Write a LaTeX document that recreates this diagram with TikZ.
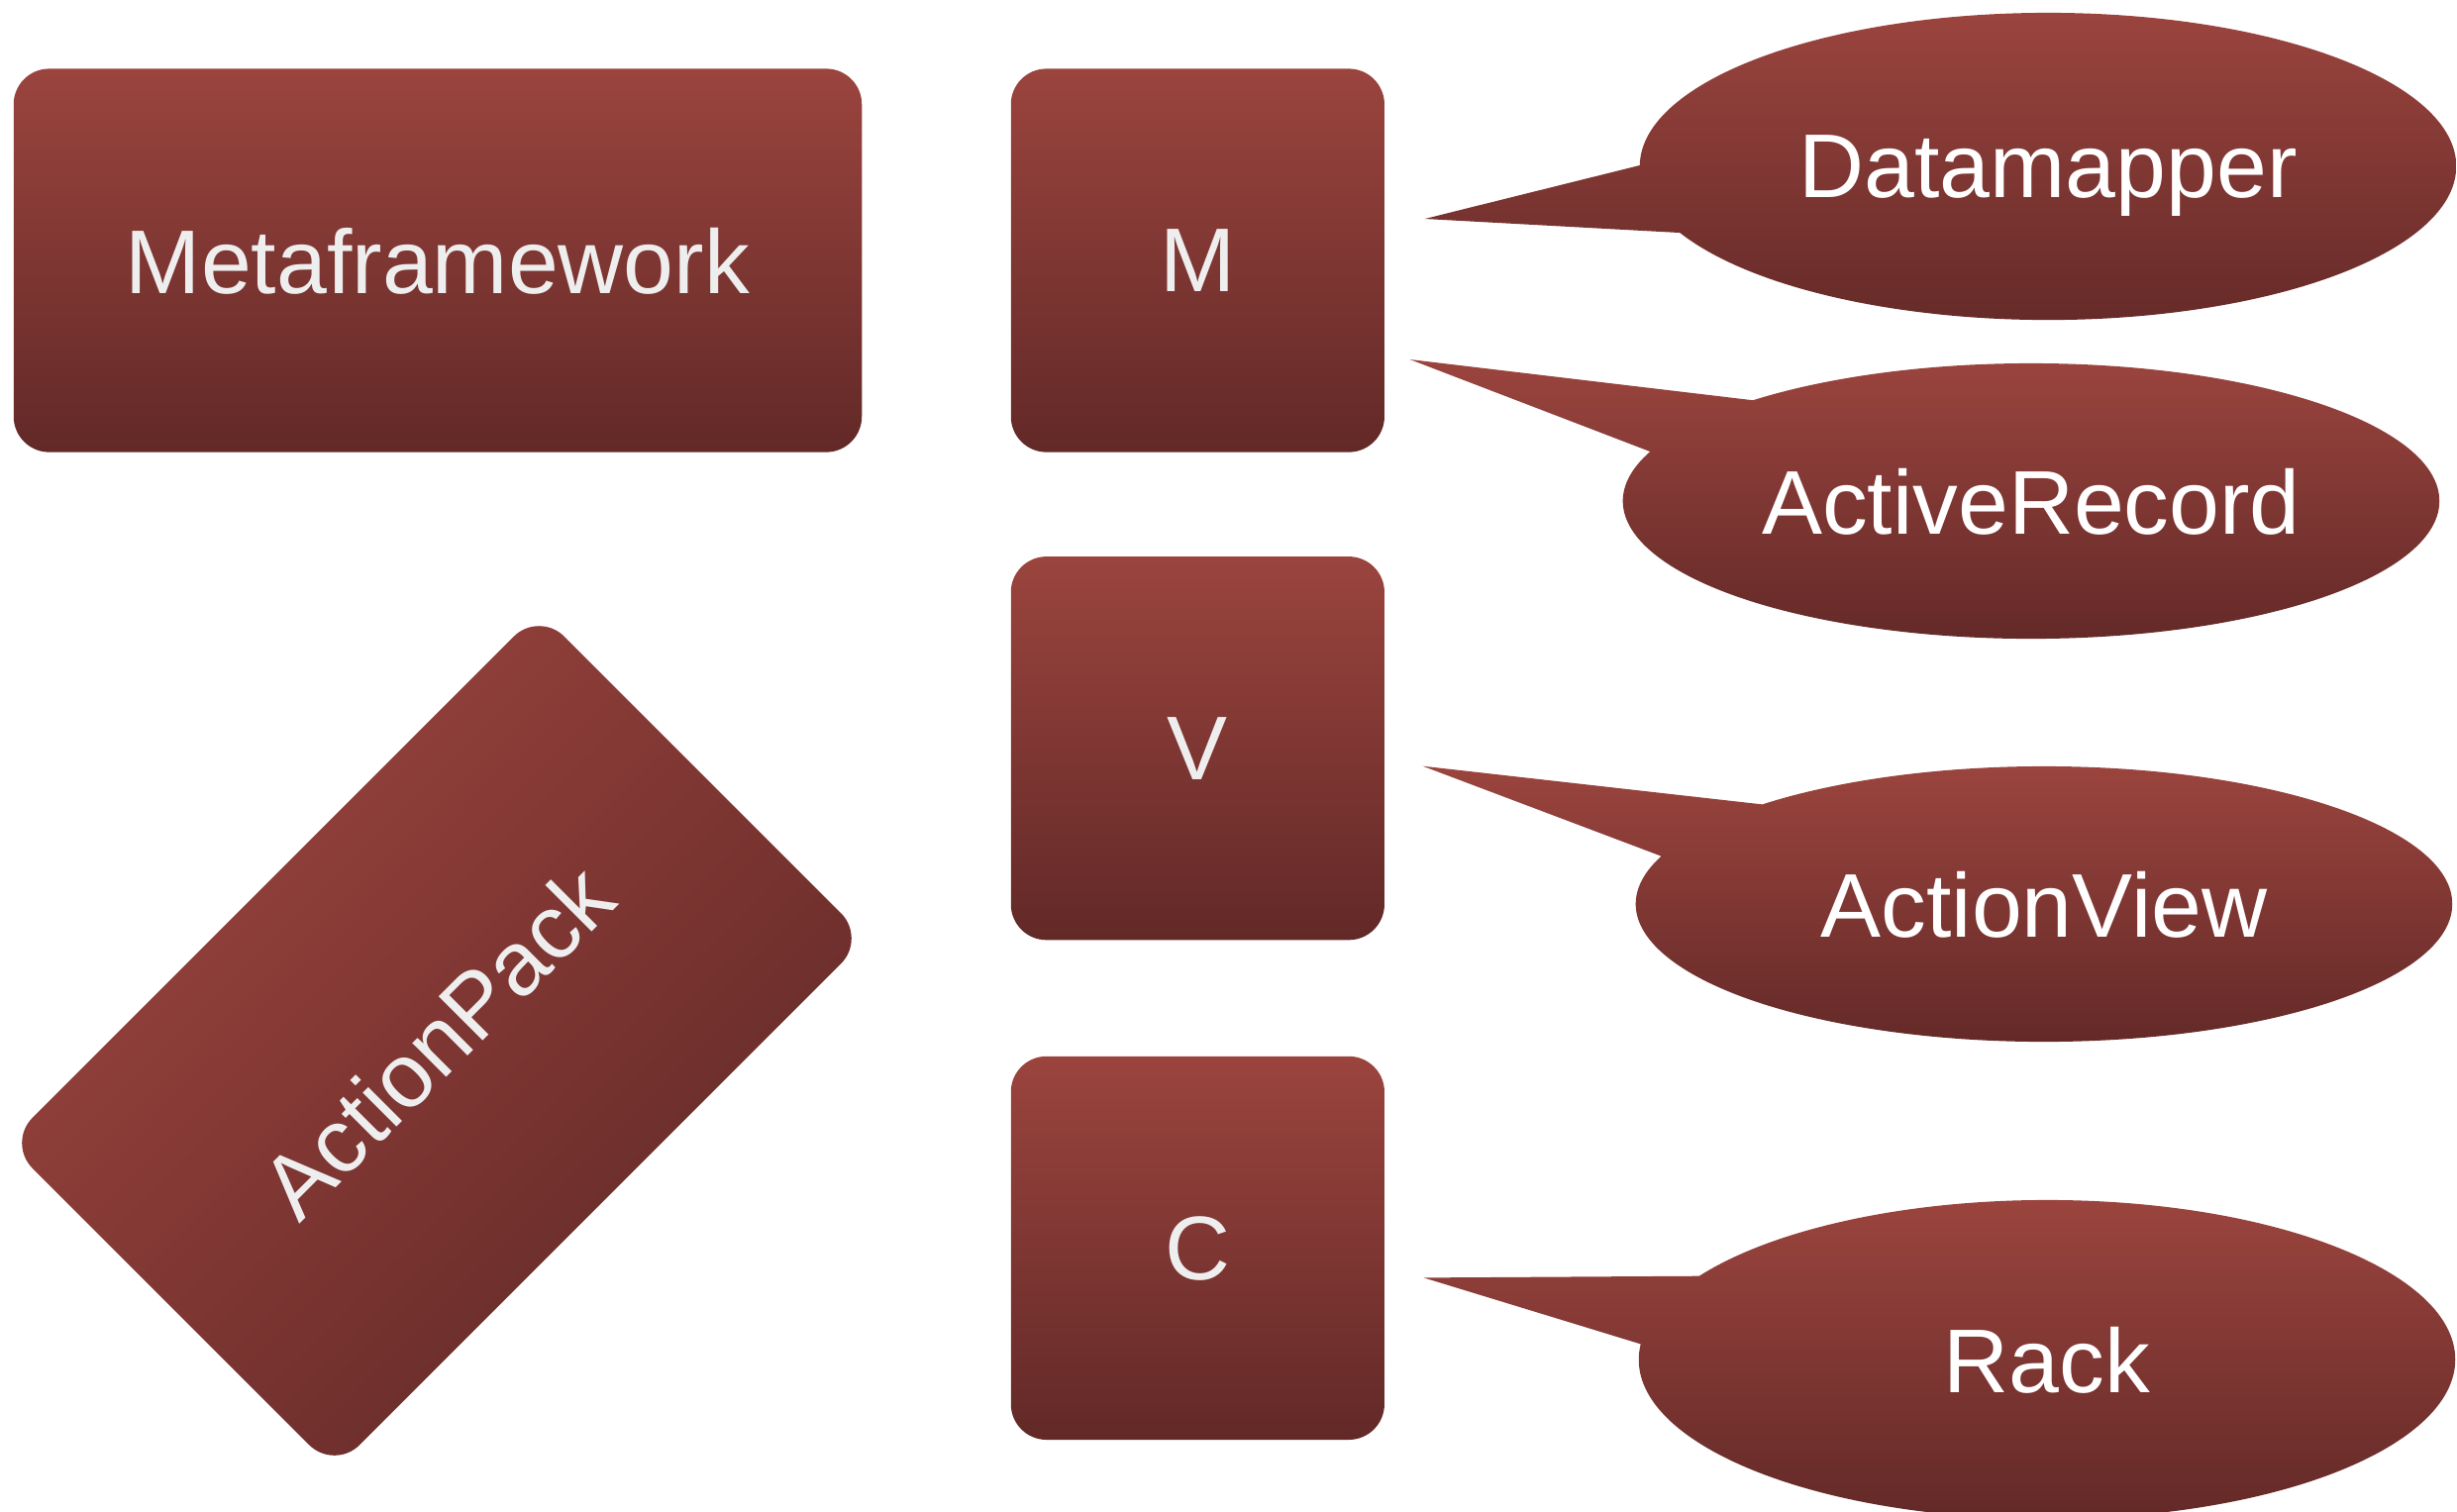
\documentclass[tikz,border=0pt]{standalone}
\usepackage{fontspec}
\setmainfont{Liberation Sans}
\usetikzlibrary{positioning,shapes.callouts,calc}

\definecolor{rubytop}{RGB}{155,68,62}
\definecolor{rubybot}{RGB}{98,41,39}
\definecolor{lighttext}{RGB}{238,238,238}

\begin{document}
\begin{tikzpicture}[x=0.01cm,y=-0.01cm,
    tile/.style={rectangle,rounded corners=0.36cm,top color=rubytop,bottom color=rubybot,
                 text=lighttext,font=\fontsize{26}{30}\selectfont,inner sep=0pt,
                 text depth=0pt,minimum height=3.87cm},
    bubble/.style={ellipse callout,callout pointer arc=26,top color=rubytop,bottom color=rubybot,
                   text=white,font=\fontsize{26}{30}\selectfont,inner sep=0pt,
                   text depth=0pt,minimum width=8.24cm}]
  \useasboundingbox (0,0) rectangle (2481,1526);
  \clip (0,0) rectangle (2481,1526);

  % left column
  \node[tile,minimum width=8.56cm] (meta) at (442,263) {Metaframework};
  \node[tile,shading angle=45,minimum width=7.59cm,minimum height=4.67cm,rotate=45] (pack) at (441,1051) {ActionPack};

  % M, V, C
  \node[tile,minimum width=3.77cm,right=1.49cm of meta] (M) {M};
  \node[tile,minimum width=3.77cm,below=1.04cm of M] (V) {V};
  \node[tile,minimum width=3.77cm,below=1.16cm of V] (C) {C};

  % callout tips
  \coordinate (tipD) at ($(M.east)+(40,-42)$);
  \coordinate (tipAR) at ($(M.east)+(25,100)$);
  \coordinate (tipAV) at ($(V.east)+(38,18)$);
  \coordinate (tipR) at ($(C.east)+(39,30)$);

  \node[bubble,minimum height=3.10cm,callout absolute pointer={(tipD)}] (datamapper) at (2068,168) {Datamapper};
  \node[bubble,minimum height=2.78cm,callout absolute pointer={(tipAR)}] (activerecord) at (2051,506) {ActiveRecord};
  \node[bubble,minimum height=2.78cm,callout absolute pointer={(tipAV)}] (actionview) at (2064,913) {ActionView};
  \node[bubble,minimum height=3.22cm,callout absolute pointer={(tipR)}] (rack) at (2067,1373) {Rack};
\end{tikzpicture}
\end{document}
